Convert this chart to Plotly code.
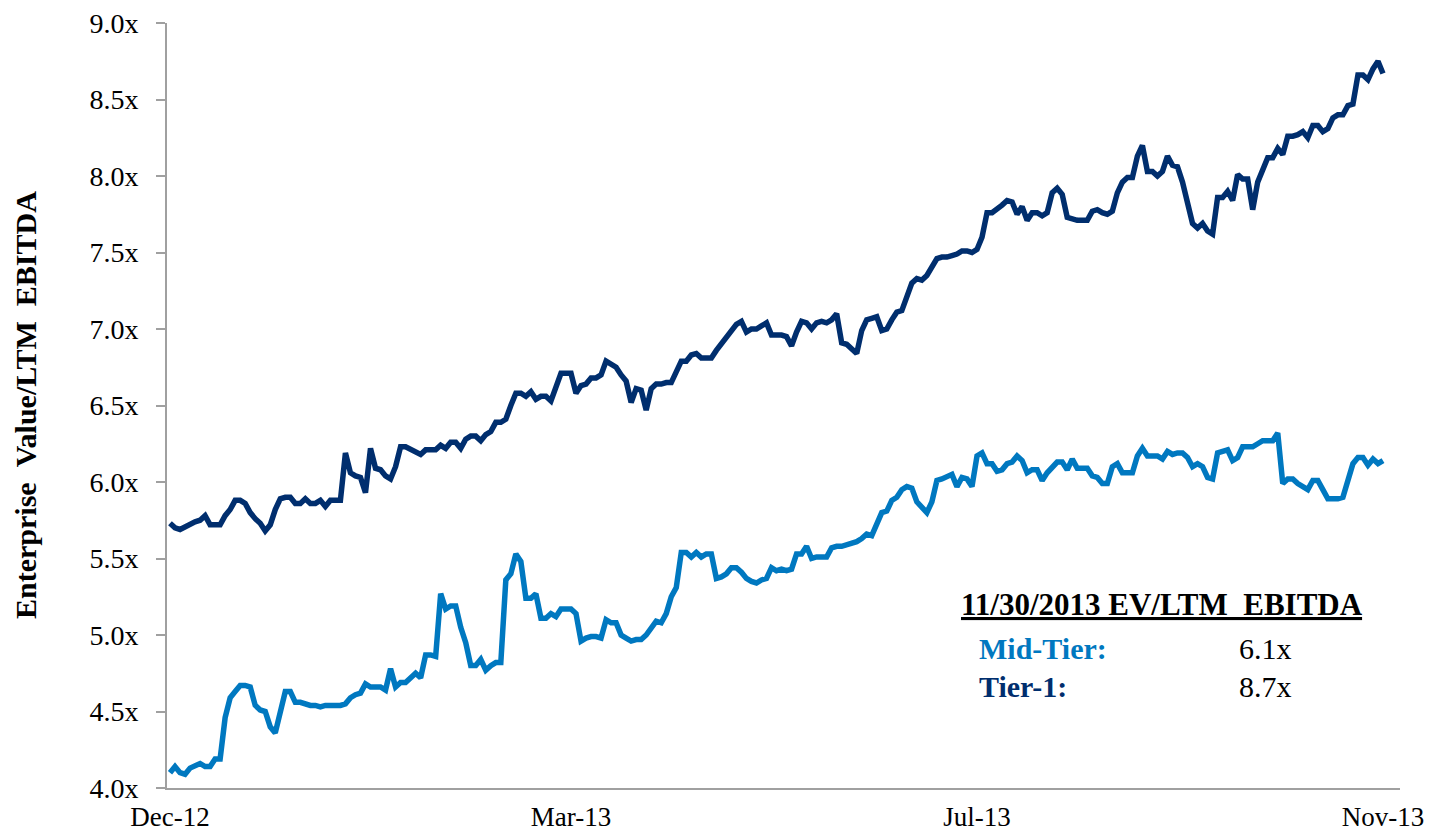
import plotly.graph_objects as go

# Daily (trading-day) index from Dec-12 to Nov-13
tick_positions = [0, 80, 161, 242]
tick_labels = ["Dec-12", "Mar-13", "Jul-13", "Nov-13"]

tier1 = [
    5.73, 5.70, 5.69, 5.71, 5.72, 5.74, 5.75, 5.78, 5.72, 5.72,
    5.72, 5.78, 5.82, 5.88, 5.88, 5.86, 5.80, 5.76, 5.73, 5.68,
    5.72, 5.82, 5.89, 5.90, 5.90, 5.86, 5.86, 5.89, 5.86, 5.86,
    5.88, 5.84, 5.88, 5.88, 5.88, 6.19, 6.06, 6.04, 6.03, 5.93,
    6.22, 6.09, 6.08, 6.04, 6.02, 6.10, 6.23, 6.23, 6.21, 6.19,
    6.18, 6.21, 6.21, 6.21, 6.24, 6.22, 6.26, 6.26, 6.22, 6.28,
    6.30, 6.30, 6.27, 6.31, 6.33, 6.39, 6.39, 6.41, 6.50, 6.58,
    6.58, 6.56, 6.59, 6.54, 6.56, 6.56, 6.53, 6.62, 6.71, 6.71,
    6.71, 6.58, 6.63, 6.64, 6.68, 6.68, 6.70, 6.79, 6.77, 6.75,
    6.70, 6.66, 6.52, 6.61, 6.60, 6.47, 6.61, 6.64, 6.64, 6.65,
    6.65, 6.72, 6.79, 6.79, 6.83, 6.84, 6.81, 6.81, 6.81, 6.86,
    6.90, 6.95, 6.99, 7.03, 7.05, 6.98, 7.00, 7.00, 7.02, 7.04,
    6.96, 6.96, 6.96, 6.95, 6.89, 6.98, 7.05, 7.04, 7.00, 7.04,
    7.05, 7.04, 7.06, 7.10, 6.91, 6.90, 6.87, 6.84, 6.99, 7.06,
    7.07, 7.08, 6.99, 7.00, 7.06, 7.11, 7.12, 7.21, 7.30, 7.33,
    7.32, 7.35, 7.41, 7.46, 7.47, 7.47, 7.48, 7.49, 7.51, 7.51,
    7.50, 7.52, 7.60, 7.76, 7.76, 7.78, 7.81, 7.84, 7.83, 7.75,
    7.80, 7.71, 7.76, 7.76, 7.74, 7.76, 7.89, 7.92, 7.88, 7.73,
    7.72, 7.71, 7.71, 7.71, 7.77, 7.78, 7.76, 7.75, 7.77, 7.89,
    7.96, 7.99, 7.99, 8.13, 8.20, 8.03, 8.03, 8.00, 8.03, 8.13,
    8.07, 8.06, 7.96, 7.82, 7.69, 7.66, 7.69, 7.64, 7.62, 7.86,
    7.86, 7.90, 7.84, 8.01, 7.98, 7.98, 7.78, 7.96, 8.05, 8.12,
    8.12, 8.18, 8.14, 8.26, 8.26, 8.27, 8.29, 8.25, 8.33, 8.33,
    8.29, 8.31, 8.38, 8.40, 8.40, 8.46, 8.47, 8.66, 8.66, 8.63,
    8.70, 8.75, 8.67,
]

mid_tier = [
    4.10, 4.14, 4.10, 4.09, 4.13, 4.15, 4.16, 4.14, 4.14, 4.19,
    4.19, 4.46, 4.59, 4.63, 4.67, 4.67, 4.66, 4.54, 4.51, 4.50,
    4.40, 4.36, 4.49, 4.63, 4.63, 4.56, 4.56, 4.55, 4.54, 4.54,
    4.53, 4.54, 4.54, 4.54, 4.54, 4.55, 4.59, 4.61, 4.62, 4.68,
    4.66, 4.66, 4.66, 4.64, 4.78, 4.66, 4.69, 4.69, 4.72, 4.75,
    4.72, 4.87, 4.87, 4.86, 5.27, 5.17, 5.19, 5.19, 5.05, 4.95,
    4.80, 4.80, 4.84, 4.77, 4.80, 4.82, 4.82, 5.36, 5.40, 5.53,
    5.48, 5.24, 5.24, 5.27, 5.11, 5.11, 5.14, 5.12, 5.17, 5.17,
    5.17, 5.14, 4.96, 4.98, 4.99, 4.99, 4.98, 5.10, 5.08, 5.08,
    5.00, 4.98, 4.96, 4.97, 4.97, 5.00, 5.05, 5.09, 5.08, 5.14,
    5.25, 5.31, 5.54, 5.54, 5.51, 5.54, 5.51, 5.53, 5.53, 5.37,
    5.38, 5.40, 5.44, 5.44, 5.41, 5.37, 5.35, 5.34, 5.36, 5.37,
    5.44, 5.42, 5.43, 5.42, 5.43, 5.53, 5.53, 5.58, 5.50, 5.51,
    5.51, 5.51, 5.57, 5.58, 5.58, 5.59, 5.60, 5.61, 5.63, 5.66,
    5.65, 5.72, 5.80, 5.81, 5.88, 5.90, 5.95, 5.97, 5.96, 5.87,
    5.83, 5.80, 5.87, 6.01, 6.02, 6.04, 6.05, 5.97, 6.03, 6.02,
    5.97, 6.17, 6.19, 6.12, 6.12, 6.07, 6.08, 6.12, 6.13, 6.17,
    6.14, 6.06, 6.08, 6.08, 6.01, 6.06, 6.09, 6.13, 6.13, 6.08,
    6.15, 6.09, 6.09, 6.09, 6.04, 6.03, 5.99, 5.99, 6.10, 6.12,
    6.06, 6.06, 6.06, 6.17, 6.22, 6.17, 6.17, 6.17, 6.15, 6.20,
    6.18, 6.19, 6.19, 6.16, 6.10, 6.12, 6.10, 6.03, 6.02, 6.19,
    6.20, 6.21, 6.14, 6.16, 6.23, 6.23, 6.23, 6.25, 6.27, 6.27,
    6.27, 6.32, 5.99, 6.02, 6.02, 5.99, 5.97, 5.95, 6.01, 6.01,
    5.95, 5.89, 5.89, 5.89, 5.90, 6.02, 6.12, 6.16, 6.16, 6.11,
    6.15, 6.12, 6.14,
]

y_ticks = [4.0, 4.5, 5.0, 5.5, 6.0, 6.5, 7.0, 7.5, 8.0, 8.5, 9.0]
y_tick_labels = [f"{v:.1f}x" for v in y_ticks]

summary_title = "11/30/2013 EV/LTM\u00a0\u00a0EBITDA"
summary_names = ["Mid-Tier:", "Tier-1:"]
summary_values = ["6.1x", "8.7x"]

DARK = "#002E6E"
LIGHT = "#0078C0"
FONT = "Liberation Serif"

W, H = 1431, 837
L, R, T, B = 167, 31, 23, 49
plot_w = W - L - R
plot_h = H - T - B


def px_x(p):
    return (p - L) / plot_w


def px_y(p):
    return (H - B - p) / plot_h


fig = go.Figure()
fig.add_trace(go.Scatter(x=list(range(len(tier1))), y=tier1, mode="lines",
                         name="Tier-1", line=dict(color=DARK, width=5.5),
                         showlegend=False))
fig.add_trace(go.Scatter(x=list(range(len(mid_tier))), y=mid_tier, mode="lines",
                         name="Mid-Tier", line=dict(color=LIGHT, width=5.5),
                         showlegend=False))

x_per_px = 242 / (1383 - 170)
fig.update_xaxes(
    range=[0 - (170 - L) * x_per_px, 242 + (L + plot_w - 1383) * x_per_px],
    tickmode="array", tickvals=tick_positions, ticktext=tick_labels,
    showgrid=False, zeroline=False, showline=True, linecolor="#A0A0A0",
    linewidth=2, ticks="", ticklabelstandoff=4, automargin=False,
    tickfont=dict(family=FONT, size=27, color="black"),
)
fig.update_yaxes(
    range=[4.0, 9.0], tickmode="array", tickvals=y_ticks, ticktext=y_tick_labels,
    showgrid=False, zeroline=False, showline=True, linecolor="#A0A0A0",
    linewidth=2, ticks="outside", ticklen=9, tickcolor="#A0A0A0", tickwidth=2,
    ticklabelstandoff=12, automargin=False,
    tickfont=dict(family=FONT, size=28, color="black"),
)

annotations = [
    dict(text="<b>Enterprise\u00a0\u00a0Value/LTM\u00a0\u00a0EBITDA</b>",
         xref="paper", yref="paper", x=px_x(25), y=px_y(405),
         textangle=-90, showarrow=False, xanchor="center", yanchor="middle",
         font=dict(family=FONT, size=30, color="black")),
    dict(text="<b>" + summary_title + "</b>", xref="paper", yref="paper",
         x=px_x(1162), y=px_y(604), showarrow=False, xanchor="center",
         yanchor="middle",
         font=dict(family=FONT, size=31, color="black", lineposition="under")),
]
name_colors = [LIGHT, DARK]
rows_y = [648, 686]
for name, val, col, ry in zip(summary_names, summary_values, name_colors, rows_y):
    annotations.append(dict(text="<b>" + name + "</b>", xref="paper", yref="paper",
                            x=px_x(977), y=px_y(ry), showarrow=False,
                            xanchor="left", yanchor="middle",
                            font=dict(family=FONT, size=30, color=col)))
    annotations.append(dict(text=val, xref="paper", yref="paper",
                            x=px_x(1237), y=px_y(ry), showarrow=False,
                            xanchor="left", yanchor="middle",
                            font=dict(family=FONT, size=30, color="black")))

fig.update_layout(
    width=W, height=H, margin=dict(l=L, r=R, t=T, b=B, autoexpand=False),
    paper_bgcolor="white", plot_bgcolor="white",
    annotations=annotations, showlegend=False,
)

fig.write_html("out.html")
